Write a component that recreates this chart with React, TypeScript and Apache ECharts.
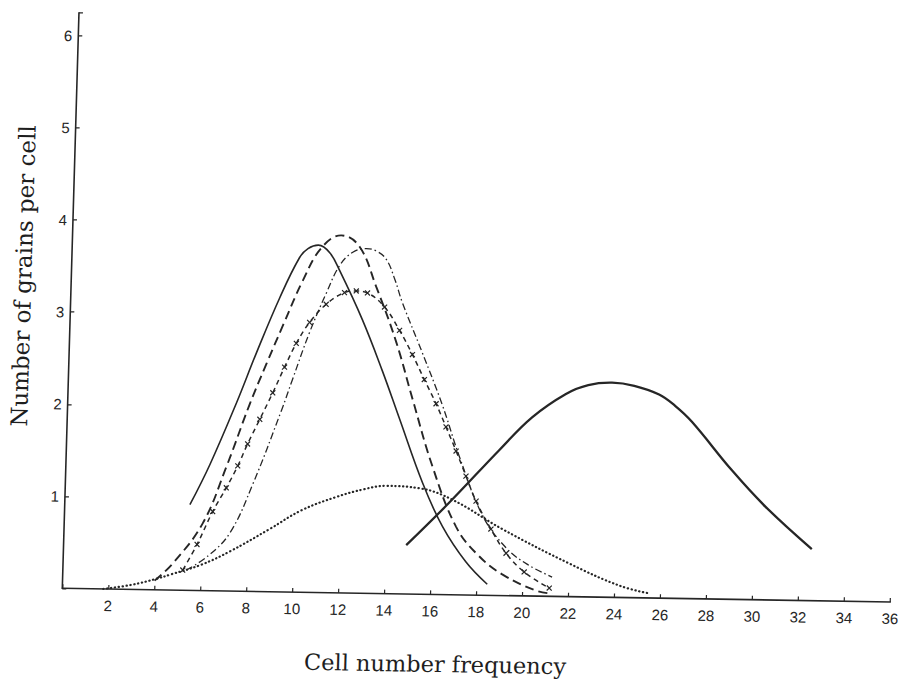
import React, { useEffect, useRef } from "react";
import * as echarts from "echarts";

// Cell number frequency (x) vs number of grains per cell (y)
const curveSolid: [number, number][] = [
  [5.44, 0.93], [6.26, 1.37], [7.33, 2.04], [8.14, 2.59], [9.08, 3.19], [9.89, 3.63],
  [10.25, 3.73], [10.7, 3.77], [11.2, 3.69], [11.65, 3.5], [12.7, 2.97], [13.63, 2.42],
  [14.44, 1.9], [15.52, 1.21], [16.44, 0.74], [17.5, 0.36], [18.46, 0.12],
];
const curveLongDash: [number, number][] = [
  [4.0, 0.1], [4.77, 0.29], [6.02, 0.73], [6.98, 1.35], [7.91, 2.03], [8.6, 2.48],
  [9.27, 2.9], [10.06, 3.38], [10.83, 3.74], [11.68, 3.88], [12.49, 3.76], [13.26, 3.33],
  [14.19, 2.74], [14.99, 2.11], [15.93, 1.39], [17.03, 0.74], [18.0, 0.44], [19.1, 0.23],
  [20.6, 0.06], [21.3, 0.03],
];
const curveDashDot: [number, number][] = [
  [5.37, 0.22], [6.3, 0.38], [7.21, 0.63], [8.14, 1.16], [9.3, 1.97], [9.73, 2.3],
  [10.42, 2.82], [11.1, 3.25], [11.64, 3.55], [12.2, 3.7], [12.78, 3.74], [13.2, 3.72],
  [13.66, 3.63], [14.05, 3.42], [14.42, 3.16], [15.35, 2.62], [16.28, 2.06], [17.09, 1.5],
  [18.16, 0.87], [19.23, 0.52], [20.2, 0.34], [21.27, 0.21],
];
const curveCrossed: [number, number][] = [
  [5.21, 0.22], [5.8, 0.5], [6.44, 0.86], [7.0, 1.12], [7.47, 1.36], [7.87, 1.6],
  [8.37, 1.87], [8.9, 2.16], [9.38, 2.44], [9.86, 2.7], [10.41, 2.93], [11.11, 3.13],
  [11.89, 3.26], [12.4, 3.28], [12.89, 3.26], [13.65, 3.11], [14.33, 2.86], [14.92, 2.6],
  [15.47, 2.33], [16.01, 2.07], [16.47, 1.82], [16.94, 1.56], [17.4, 1.29], [17.87, 1.02],
  [18.55, 0.72], [19.24, 0.46], [20.05, 0.26], [21.16, 0.09],
];
const curveDotted: [number, number][] = [
  [1.78, 0.0], [3.0, 0.05], [4.08, 0.12], [4.7, 0.17], [6.0, 0.28], [7.23, 0.43],
  [8.93, 0.68], [10.3, 0.89], [11.79, 1.04], [13.0, 1.13], [13.94, 1.17], [15.39, 1.15],
  [16.85, 1.03], [19.06, 0.72], [22.0, 0.36], [24.19, 0.13], [25.5, 0.05],
];
const curveBroad: [number, number][] = [
  [14.89, 0.53], [16.71, 1.0], [18.82, 1.58], [20.2, 1.94], [21.64, 2.2], [22.6, 2.3],
  [23.63, 2.33], [24.6, 2.3], [25.69, 2.21], [26.4, 2.09], [27.15, 1.92], [28.95, 1.4],
  [30.46, 1.01], [32.52, 0.56],
];

const xTitle = "Cell number frequency";
const yTitle = "Number of grains per cell";

const INK = "#262626";

export default function App() {
  const ref = useRef<HTMLDivElement>(null);
  useEffect(() => {
    if (!ref.current) return;
    const chart = echarts.init(ref.current, null, { renderer: "svg" });
    const tickFont = { fontFamily: "Liberation Sans", fontSize: 15, color: "#262626" };
    const base = (data: [number, number][], lineStyle: any, extra: any = {}) => ({
      type: "line",
      data,
      smooth: 0.4,
      showSymbol: false,
      symbol: "none",
      lineStyle: { color: INK, ...lineStyle },
      ...extra,
    });
    chart.setOption({
      animation: false,
      backgroundColor: "#ffffff",
      grid: { left: 62, right: 10, top: 14.4, bottom: 92 },
      xAxis: {
        type: "value",
        min: 0,
        max: 36,
        interval: 2,
        axisLine: { show: true, lineStyle: { color: INK, width: 1.6 } },
        axisTick: { show: true, inside: true, length: 4, lineStyle: { color: INK, width: 1.2 } },
        splitLine: { show: false },
        axisLabel: {
          ...tickFont,
          margin: 9,
          formatter: (v: number) => (v > 0 ? String(v) : ""),
        },
      },
      yAxis: {
        type: "value",
        min: 0,
        max: 6.25,
        interval: 1,
        axisLine: { show: true, lineStyle: { color: INK, width: 1.6 } },
        axisTick: { show: true, inside: true, length: 4, lineStyle: { color: INK, width: 1.2 } },
        splitLine: { show: false },
        axisLabel: {
          ...tickFont,
          margin: 6,
          formatter: (v: number) => (v > 0 && Number.isInteger(v) ? String(v) : ""),
        },
      },
      graphic: [
        {
          type: "text",
          x: 437,
          y: 659.5,
          style: {
            text: xTitle,
            font: "22.5px 'DejaVu Serif'",
            fill: "#1e1e1e",
            align: "center",
            verticalAlign: "middle",
          },
        },
        {
          type: "text",
          x: 14,
          y: 278.5,
          rotation: Math.PI / 2,
          style: {
            text: yTitle,
            font: "23px 'DejaVu Serif'",
            fill: "#1e1e1e",
            align: "center",
            verticalAlign: "middle",
          },
        },
      ],
      series: [
        base(curveSolid, { width: 1.6, type: "solid" }),
        base(curveLongDash, { width: 1.9, type: [9, 5] }),
        base(curveDashDot, { width: 1.3, type: [7, 3, 1.5, 3] }),
        base(curveCrossed, { width: 1.5, type: [5, 4] }, {
          showSymbol: true,
          symbol: "path://M0,0L10,10M10,0L0,10",
          symbolSize: 5,
          itemStyle: { color: "none", borderColor: INK, borderWidth: 1.2 },
        }),
        base(curveDotted, { width: 2.2, type: [0.3, 3.6], cap: "round" }),
        base(curveBroad, { width: 2.3, type: "solid" }),
      ],
    });
    return () => chart.dispose();
  }, []);
  return (
    <div
      ref={ref}
      style={{
        position: "absolute",
        left: 0,
        top: 0,
        width: 902,
        height: 682,
        background: "#ffffff",
        transformOrigin: "0 0",
        transform: "matrix(0.99928, 0.016506, -0.028954, 1, 17.428, -2.723)",
      }}
    />
  );
}
